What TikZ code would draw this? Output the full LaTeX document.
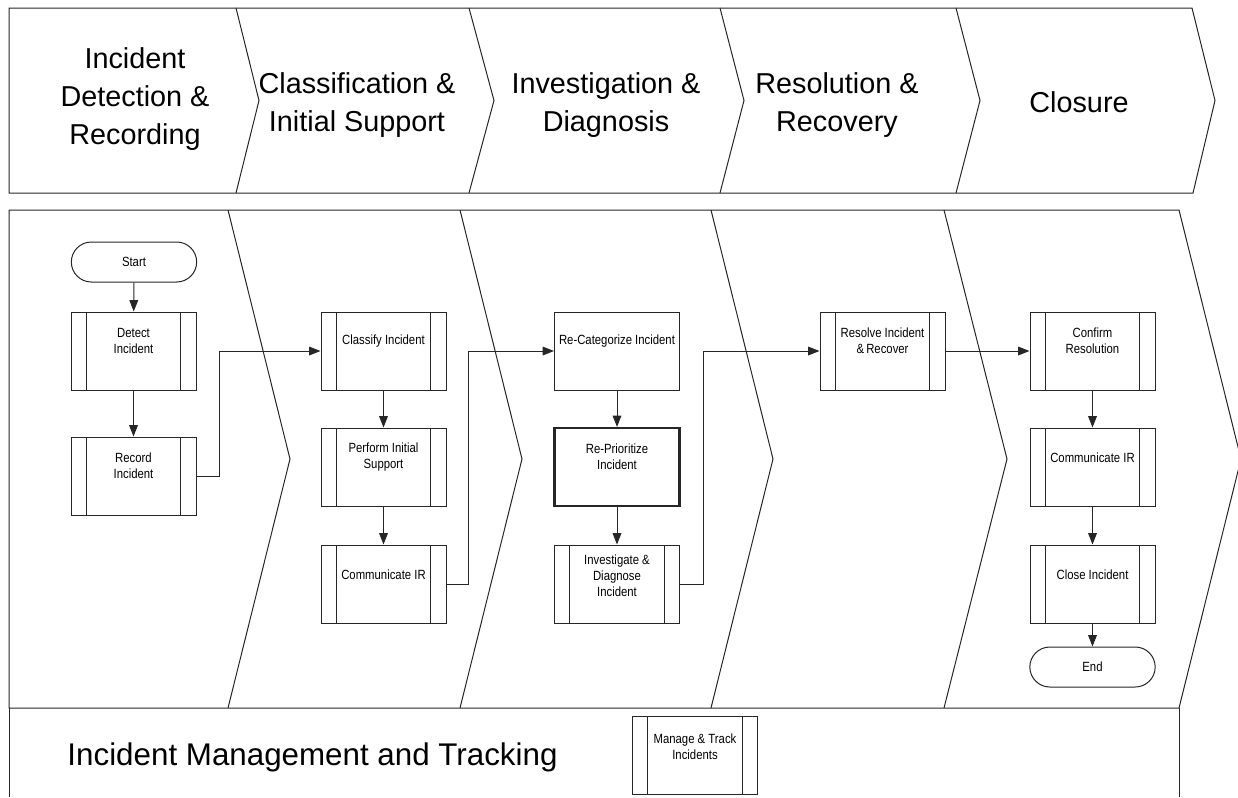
\documentclass[tikz,border=0pt]{standalone}
\usepackage{fontspec}
\setmainfont{Liberation Sans}
\newfontfamily\narrowfont[FakeStretch=0.85]{Liberation Sans}
\newcommand\bxfont{\narrowfont\fontsize{10}{12}\selectfont}
\usetikzlibrary{arrows.meta,calc}
\begin{document}
\begin{tikzpicture}[x=0.75pt,y=-0.75pt,
  ln/.style={line width=0.75pt, draw=black!85},
  arr/.style={ln, -{Triangle[length=8.5pt,width=6.5pt]}},
  plain/.style={ln, fill=white, minimum width=93.75pt, minimum height=58.5pt, inner sep=0pt},
  sub/.style={plain, path picture={
    \draw[ln] ([xshift=11.5pt]path picture bounding box.north west) -- ([xshift=11.5pt]path picture bounding box.south west);
    \draw[ln] ([xshift=-11.5pt]path picture bounding box.north east) -- ([xshift=-11.5pt]path picture bounding box.south east);}},
  term/.style={ln, fill=white, rounded corners=15pt, minimum width=94pt, minimum height=30pt, inner sep=0pt, font=\bxfont},
  btxt/.style={font=\bxfont, align=center, inner sep=0pt},
  htxt/.style={font=\fontsize{21.6}{28.5}\selectfont, align=center, inner sep=0pt},
  lane/.style={font=\fontsize{23.5}{28}\selectfont, inner sep=0pt}]
\useasboundingbox (0,0) rectangle (1238,797);

% header chevrons
\draw[ln] (9,8) -- (1192,8) -- (1215,100.5) -- (1193,193) -- (9,193) -- cycle;
\draw[ln] (236,8) -- (259,100.5) -- (236,193);
\draw[ln] (469,8) -- (494,100.5) -- (469,193);
\draw[ln] (720,8) -- (744,100.5) -- (720,193);
\draw[ln] (956,8) -- (980,100.5) -- (956,193);

\node[htxt] (h1) at (135,99) {Incident\\Detection \&\\Recording};
\node[htxt] (h2) at (357,105) {Classification \&\\Initial Support};
\node[htxt] (h3) at (606,105) {Investigation \&\\Diagnosis};
\node[htxt] (h4) at (837,105) {Resolution \&\\Recovery};
\node[htxt] (h5) at (1079,102) {Closure};

% body chevrons
\draw[ln] (9,210) -- (1179,210) -- (1241,459) -- (1179,708) -- (9,708) -- cycle;
\draw[ln] (228,210) -- (290,459) -- (228,708);
\draw[ln] (460,210) -- (522,459) -- (460,708);
\draw[ln] (711,210) -- (773,459) -- (711,708);
\draw[ln] (944,210) -- (1007,459) -- (944,708);

% bottom lane
\draw[ln] (9,708) -- (9,797);
\draw[ln] (1179,708) -- (1179,797);
\node[lane] (lt) at (312.5,757) {Incident Management and Tracking};

% column 1
\node[term] (start) at (134,262) {Start};
\node[sub] (det) at (133.5,351) {};
\node[btxt] at ($(det.north)+(0,29)$) {Detect\\Incident};
\node[sub] (rec) at (133.5,476) {};
\node[btxt] at ($(rec.north)+(0,29)$) {Record\\Incident};

% column 2
\node[sub] (cls) at (383.5,351) {};
\node[btxt] at ($(cls.north)+(0,30)$) {Classify Incident};
\node[sub] (per) at (383.5,467) {};
\node[btxt] at ($(per.north)+(0,30)$) {Perform Initial\\Support};
\node[sub] (com1) at (383.5,584) {};
\node[btxt] at ($(com1.north)+(0,30)$) {Communicate IR};

% column 3
\node[plain] (rcat) at (617,351) {};
\node[btxt] at ($(rcat.north)+(0,30)$) {Re-Categorize Incident};
\node[plain, line width=1.6pt] (rpri) at (617,467) {};
\node[btxt] at ($(rpri.north)+(0,30)$) {Re-Prioritize\\Incident};
\node[sub] (inv) at (617,584) {};
\node[btxt] at ($(inv.north)+(0,31)$) {Investigate \&\\Diagnose\\Incident};

% column 4
\node[sub] (res) at (882.5,351) {};
\node[btxt] at ($(res.north)+(0,29)$) {Resolve Incident\\\&\,Recover};

% column 5
\node[sub] (con) at (1092.5,351) {};
\node[btxt] at ($(con.north)+(0,29)$) {Confirm\\Resolution};
\node[sub] (com2) at (1092.5,467) {};
\node[btxt] at ($(com2.north)+(0,30)$) {Communicate IR};
\node[sub] (clo) at (1092.5,584) {};
\node[btxt] at ($(clo.north)+(0,30)$) {Close Incident};
\node[term] (end) at (1092.5,667) {End};

% lane box
\node[sub] (man) at (695,755) {};
\node[btxt] at ($(man.north)+(0,31)$) {Manage \& Track\\Incidents};

% connectors
\draw[arr] (start) -- (det);
\draw[arr] (det) -- (rec);
\draw[arr] (rec.east) -- ++(23,0) |- (cls.west);
\draw[arr] (cls) -- (per);
\draw[arr] (per) -- (com1);
\draw[arr] (com1.east) -- ++(22,0) |- (rcat.west);
\draw[arr] (rcat) -- (rpri);
\draw[arr] (rpri) -- (inv);
\draw[arr] (inv.east) -- ++(23,0) |- (res.west);
\draw[arr] (res) -- (con);
\draw[arr] (con) -- (com2);
\draw[arr] (com2) -- (clo);
\draw[arr] (clo) -- (end);
\end{tikzpicture}
\end{document}
